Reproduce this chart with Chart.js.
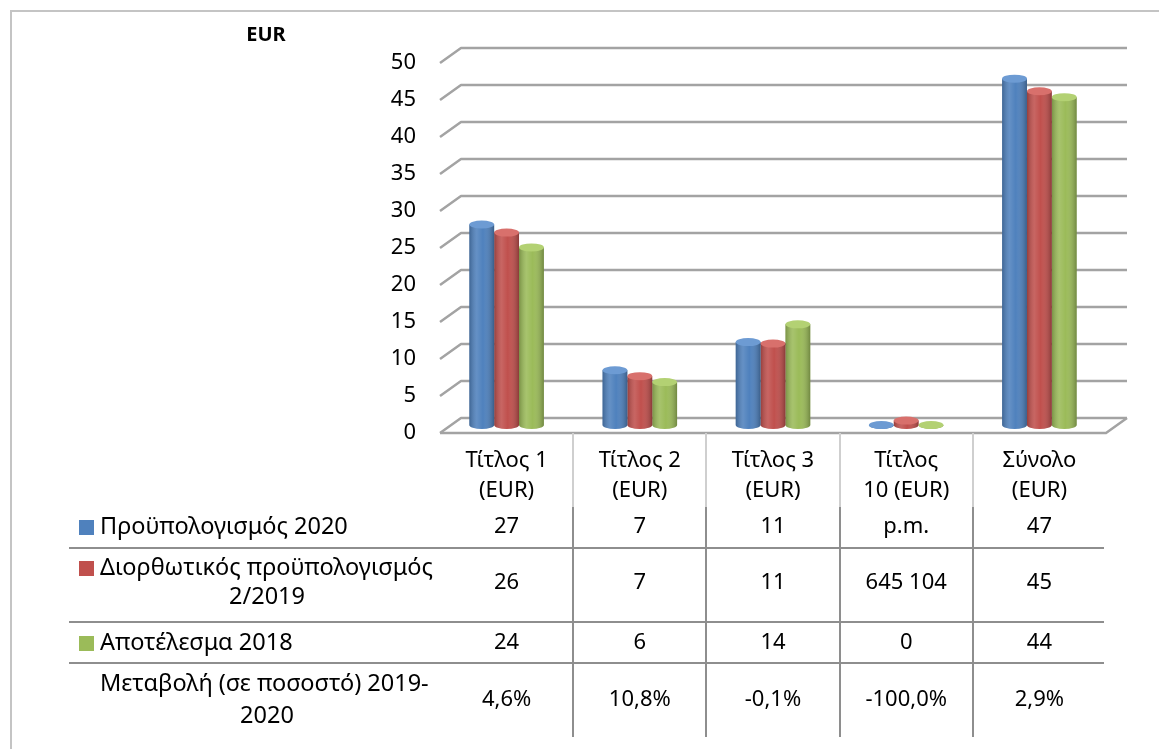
<!DOCTYPE html>
<html>
<head>
<meta charset="utf-8">
<script src="https://cdn.jsdelivr.net/npm/chart.js@4.4.0/dist/chart.umd.min.js"></script>
<style>
  html, body { margin: 0; padding: 0; background: #fff; }
  #wrap { width: 1159px; height: 749px; position: relative; }
</style>
</head>
<body>
<div id="wrap"><canvas id="chart"></canvas></div>
<script>
// Κατηγορίες (δύο γραμμές η καθεμία)
const categories = [["Τίτλος 1", "(EUR)"], ["Τίτλος 2", "(EUR)"], ["Τίτλος 3", "(EUR)"], ["Τίτλος", "10 (EUR)"], ["Σύνολο", "(EUR)"]];
const yTicks = [0, 5, 10, 15, 20, 25, 30, 35, 40, 45, 50];

// Τιμές των στηλών (όπως διαβάζονται από το γράφημα)
const budget2020 = [27.1, 7.4, 11.2, 0, 46.8];
const draftBudget2019 = [26.0, 6.6, 11.0, 0.6, 45.1];
const outturn2018 = [24.0, 5.8, 13.6, 0, 44.3];

const seriesNames = [["Προϋπολογισμός 2020"], ["Διορθωτικός προϋπολογισμός", "2/2019"], ["Αποτέλεσμα 2018"]];
const seriesColors = ["#4F81BD", "#C0504D", "#9BBB59"];
const capColors = ["#6d9bd3", "#d8706c", "#b3d173"];

// Πίνακας δεδομένων κάτω από το γράφημα
const tableBudget2020 = ["27", "7", "11", "p.m.", "47"];
const tableDraft2019 = ["26", "7", "11", "645 104", "45"];
const tableOutturn2018 = ["24", "6", "14", "0", "44"];
const changeLabel = ["Μεταβολή (σε ποσοστό) 2019-", "2020"];
const tableChange = ["4,6%", "10,8%", "-0,1%", "-100,0%", "2,9%"];

const FONT = '"Noto Sans", "DejaVu Sans", sans-serif';
const DEPTH_X = 21, DEPTH_Y = -15;

// Πλαίσιο και τρισδιάστατες γραμμές πλέγματος
const wallPlugin = {
    id: "wall",
    beforeDatasetsDraw(chart) {
        const ctx = chart.ctx;
        const y = chart.scales.y;
        const left = chart.chartArea.left, right = chart.chartArea.right;
        ctx.save();
        // πλαίσιο
        ctx.strokeStyle = "#c4c4c4";
        ctx.lineWidth = 2;
        ctx.beginPath();
        ctx.moveTo(11, chart.height);
        ctx.lineTo(11, 11);
        ctx.lineTo(chart.width, 11);
        ctx.stroke();

        ctx.strokeStyle = "#a3a3a3";
        ctx.lineWidth = 2.5;
        ctx.lineJoin = "round";
        yTicks.forEach(v => {
            const front = y.getPixelForValue(v) + 8;
            const back = front + DEPTH_Y;
            ctx.beginPath();
            ctx.moveTo(left, front);
            ctx.lineTo(left + DEPTH_X, back);
            ctx.lineTo(right + DEPTH_X, back);
            ctx.stroke();
        });
        // δάπεδο
        const f0 = y.getPixelForValue(0) + 8;
        ctx.beginPath();
        ctx.moveTo(left, f0);
        ctx.lineTo(right, f0);
        ctx.lineTo(right + DEPTH_X, f0 + DEPTH_Y);
        ctx.stroke();
        ctx.restore();
    }
};

// Κύλινδροι: σκίαση και καπάκια πάνω από τις στήλες
const cylinderPlugin = {
    id: "cylinder",
    afterDatasetsDraw(chart) {
        const ctx = chart.ctx;
        ctx.save();
        chart.data.datasets.forEach((ds, i) => {
            const meta = chart.getDatasetMeta(i);
            meta.data.forEach(bar => {
                const p = bar.getProps(["x", "y", "base", "width"], true);
                const rx = p.width / 2, ry = 4;
                const l = p.x - rx, r = p.x + rx;
                ctx.fillStyle = seriesColors[i];
                ctx.beginPath();
                ctx.ellipse(p.x, p.base, rx, ry, 0, 0, Math.PI);
                ctx.fill();
                const g = ctx.createLinearGradient(l, 0, r, 0);
                g.addColorStop(0, "rgba(0,0,0,0.22)");
                g.addColorStop(0.3, "rgba(255,255,255,0.12)");
                g.addColorStop(0.55, "rgba(255,255,255,0)");
                g.addColorStop(1, "rgba(0,0,0,0.28)");
                ctx.fillStyle = g;
                ctx.beginPath();
                ctx.moveTo(l, p.y);
                ctx.lineTo(l, p.base);
                ctx.ellipse(p.x, p.base, rx, ry, 0, Math.PI, 0, true);
                ctx.lineTo(r, p.y);
                ctx.closePath();
                ctx.fill();
                ctx.fillStyle = capColors[i];
                ctx.beginPath();
                ctx.ellipse(p.x, p.y, rx, ry, 0, 0, Math.PI * 2);
                ctx.fill();
            });
        });
        ctx.restore();
    }
};

// Πίνακας δεδομένων
const tablePlugin = {
    id: "dataTable",
    afterDraw(chart) {
        const ctx = chart.ctx;
        const xs = chart.scales.x;
        const colW = (xs.right - xs.left) / categories.length;
        const tableRight = xs.right - 2;
        ctx.save();

        // τίτλος άξονα
        ctx.fillStyle = "#000";
        ctx.font = "bold 20px " + FONT;
        ctx.textAlign = "center";
        ctx.textBaseline = "middle";
        ctx.fillText("EUR", 266, 35);

        // γραμμές
        ctx.lineWidth = 2;
        for (let k = 1; k < categories.length; k++) {
            const lx = Math.round(xs.left + colW * k);
            ctx.strokeStyle = "#cfcfcf";
            ctx.beginPath(); ctx.moveTo(lx, 433); ctx.lineTo(lx, 507); ctx.stroke();
            ctx.strokeStyle = "#8e8e8e";
            ctx.beginPath(); ctx.moveTo(lx, 507); ctx.lineTo(lx, 737); ctx.stroke();
        }
        [548, 622, 663].forEach(ly => {
            ctx.strokeStyle = "#8e8e8e";
            ctx.beginPath(); ctx.moveTo(69, ly); ctx.lineTo(tableRight, ly); ctx.stroke();
        });

        ctx.font = "22px " + FONT;
        ctx.fillStyle = "#000";
        // κεφαλίδες
        categories.forEach((c, i) => {
            const cx = xs.getPixelForValue(i);
            ctx.fillText(c[0], cx, 461);
            ctx.fillText(c[1], cx, 491);
        });

        const rows = [
            { label: seriesNames[0], values: tableBudget2020, y: 527, lines: [527], color: seriesColors[0] },
            { label: seriesNames[1], values: tableDraft2019, y: 583, lines: [568, 597], color: seriesColors[1] },
            { label: seriesNames[2], values: tableOutturn2018, y: 643, lines: [643], color: seriesColors[2] },
            { label: changeLabel, values: tableChange, y: 700, lines: [684, 716], color: null }
        ];
        rows.forEach(row => {
            ctx.font = "22px " + FONT;
            row.values.forEach((v, i) => {
                ctx.textAlign = "center";
                ctx.fillText(v, xs.getPixelForValue(i), row.y);
            });
            if (row.color) {
                ctx.fillStyle = row.color;
                ctx.fillRect(79, row.lines[0] - 7, 15, 15);
                ctx.fillStyle = "#000";
            }
            ctx.font = "23.5px " + FONT;
            ctx.textAlign = "left";
            ctx.fillText(row.label[0], 100, row.lines[0]);
            if (row.label[1]) {
                ctx.textAlign = "center";
                ctx.fillText(row.label[1], 267, row.lines[1]);
            }
        });
        ctx.restore();
    }
};

const ctx = document.getElementById("chart").getContext("2d");
new Chart(ctx, {
    type: "bar",
    data: {
        labels: categories.map(c => c.join(" ")),
        datasets: [
            { label: seriesNames[0].join(" "), data: budget2020, backgroundColor: seriesColors[0] },
            { label: seriesNames[1].join(" "), data: draftBudget2019, backgroundColor: seriesColors[1] },
            { label: seriesNames[2].join(" "), data: outturn2018, backgroundColor: seriesColors[2] }
        ]
    },
    options: {
        responsive: true,
        maintainAspectRatio: false,
        animation: false,
        categoryPercentage: 0.56,
        barPercentage: 1.0,
        layout: { padding: { left: 0, right: 53, top: 55, bottom: 324 } },
        plugins: {
            legend: { display: false },
            tooltip: { enabled: false }
        },
        scales: {
            x: { display: false },
            y: {
                min: 0,
                max: 50,
                afterFit: scale => { scale.width = 440; },
                grid: { display: false, drawTicks: false },
                border: { display: false },
                ticks: {
                    stepSize: 5,
                    padding: 24,
                    labelOffset: 8,
                    color: "#000",
                    font: { family: FONT, size: 22 }
                }
            }
        }
    },
    plugins: [wallPlugin, cylinderPlugin, tablePlugin]
});
</script>
</body>
</html>
